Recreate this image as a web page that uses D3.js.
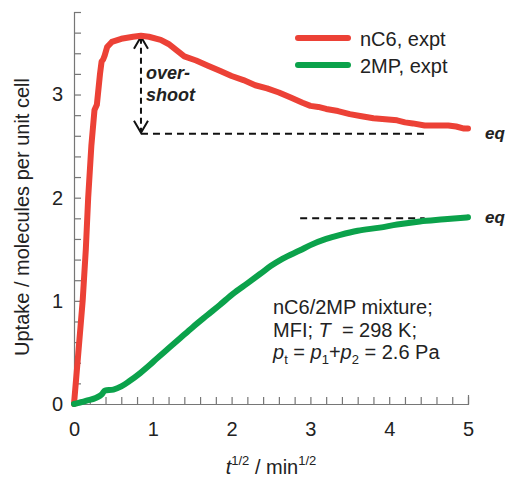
<!DOCTYPE html>
<html>
<head>
<meta charset="utf-8">
<script src="https://cdn.jsdelivr.net/npm/d3@7"></script>
<style>
  html, body { margin: 0; padding: 0; background: #fff; }
  svg { display: block; font-family: Arial, "Liberation Sans", sans-serif; }
</style>
</head>
<body>
<svg id="chart" width="507" height="481"></svg>
<script>
// nC6 uptake vs sqrt(t)
const nc6T = [0, 0.05, 0.11, 0.15, 0.18, 0.22, 0.26, 0.29, 0.31, 0.33, 0.35, 0.37, 0.39, 0.42, 0.48, 0.6, 0.75, 0.85, 0.95, 1.1, 1.2, 1.3, 1.4, 1.55, 1.7, 1.85, 2.0, 2.15, 2.3, 2.45, 2.6, 2.75, 2.9, 3.0, 3.1, 3.2, 3.35, 3.5, 3.65, 3.8, 3.95, 4.1, 4.2, 4.3, 4.45, 4.6, 4.75, 4.85, 4.95, 5.0];
const nc6V = [0, 0.45, 1.0, 1.5, 2.0, 2.5, 2.85, 2.9, 3.05, 3.2, 3.32, 3.34, 3.38, 3.46, 3.51, 3.54, 3.56, 3.57, 3.56, 3.53, 3.49, 3.43, 3.37, 3.33, 3.28, 3.23, 3.18, 3.14, 3.09, 3.06, 3.02, 2.97, 2.92, 2.89, 2.88, 2.86, 2.84, 2.81, 2.79, 2.77, 2.76, 2.75, 2.73, 2.72, 2.7, 2.7, 2.7, 2.69, 2.67, 2.67];
// 2MP uptake
const mp2T = [0, 0.15, 0.33, 0.36, 0.39, 0.5, 0.6, 0.7, 0.84, 0.95, 1.05, 1.2, 1.35, 1.5, 1.69, 1.85, 2.02, 2.2, 2.36, 2.5, 2.65, 2.87, 3.0, 3.2, 3.38, 3.6, 3.88, 4.1, 4.39, 4.7, 5.0];
const mp2V = [0, 0.03, 0.08, 0.1, 0.13, 0.14, 0.17, 0.22, 0.3, 0.37, 0.44, 0.54, 0.64, 0.74, 0.86, 0.96, 1.07, 1.17, 1.26, 1.34, 1.41, 1.49, 1.54, 1.6, 1.64, 1.68, 1.71, 1.74, 1.77, 1.79, 1.81];

const seriesNames = ['nC6, expt', '2MP, expt'];
const seriesColors = ['#ec4136', '#0ba24b'];

// equilibrium levels and overshoot marker
const nc6Eq = 2.62, nc6EqFrom = 0.85, nc6EqTo = 4.45;
const mp2Eq = 1.8, mp2EqFrom = 2.87, mp2EqTo = 4.45;
const peakT = 0.85, peakV = 3.57;

const xMajorTicks = [0, 1, 2, 3, 4, 5];
const yMajorTicks = [0, 1, 2, 3];
const xMinorTicks = d3.range(0, 5.001, 0.2);
const yMinorTicks = d3.range(0, 3.801, 0.2);

const svg = d3.select('#chart');
const margin = { top: 12, right: 39, bottom: 77, left: 74 };
const width = 507, height = 481;
const innerW = width - margin.left - margin.right;
const innerH = height - margin.top - margin.bottom;
const g = svg.append('g').attr('transform', `translate(${margin.left},${margin.top})`);

const x = d3.scaleLinear([0, 5], [0, innerW]);
const y = d3.scaleLinear([0, 3.8], [innerH, 0]);

const axisColor = '#767676';

// axes (ticks point inward)
g.append('g').attr('transform', `translate(0,${innerH})`)
  .call(d3.axisBottom(x).tickValues(xMinorTicks).tickSize(-7).tickSizeOuter(-9).tickFormat(''));
g.append('g').attr('transform', `translate(0,${innerH})`)
  .call(d3.axisBottom(x).tickValues(xMajorTicks).tickSize(0).tickPadding(18).tickFormat(d3.format('d')))
  .call((s) => s.select('.domain').remove());
g.append('g')
  .call(d3.axisLeft(y).tickValues(yMinorTicks).tickSize(-7).tickSizeOuter(-7).tickFormat(''));
g.append('g')
  .call(d3.axisLeft(y).tickValues(yMajorTicks).tickSize(0).tickPadding(11).tickFormat(d3.format('d')))
  .call((s) => s.select('.domain').remove());
g.selectAll('.domain, .tick line').attr('stroke', axisColor).attr('stroke-width', 1.2);
g.selectAll('.tick text').attr('font-size', 20).attr('fill', '#222').attr('font-family', 'Arial, "Liberation Sans", sans-serif');

// dashed equilibrium lines
const dash = '7,5';
g.append('line').attr('x1', x(nc6EqFrom)).attr('x2', x(nc6EqTo)).attr('y1', y(nc6Eq)).attr('y2', y(nc6Eq))
  .attr('stroke', '#111').attr('stroke-width', 2).attr('stroke-dasharray', dash);
g.append('line').attr('x1', x(mp2EqFrom)).attr('x2', x(mp2EqTo)).attr('y1', y(mp2Eq)).attr('y2', y(mp2Eq))
  .attr('stroke', '#111').attr('stroke-width', 2).attr('stroke-dasharray', dash);

// overshoot double arrow
g.append('line').attr('x1', x(peakT)).attr('x2', x(peakT)).attr('y1', y(peakV) + 2).attr('y2', y(nc6Eq) - 2)
  .attr('stroke', '#111').attr('stroke-width', 2).attr('stroke-dasharray', '6,4');
const ax = x(peakT), aTop = y(peakV) + 1, aBot = y(nc6Eq) - 1;
g.append('path').attr('d', `M${ax - 7},${aTop + 12}L${ax},${aTop}L${ax + 7},${aTop + 12}`)
  .attr('fill', 'none').attr('stroke', '#111').attr('stroke-width', 2);
g.append('path').attr('d', `M${ax - 7},${aBot - 12}L${ax},${aBot}L${ax + 7},${aBot - 12}`)
  .attr('fill', 'none').attr('stroke', '#111').attr('stroke-width', 2);
const ov = g.append('text').attr('font-size', 18).attr('font-weight', 'bold').attr('font-style', 'italic').attr('fill', '#222');
ov.append('tspan').attr('x', ax + 5).attr('y', y(3.15)).text('over-');
ov.append('tspan').attr('x', ax + 5).attr('y', y(2.94)).text('shoot');

// curves
const nc6 = nc6T.map((t, i) => [t, nc6V[i]]);
const mp2 = mp2T.map((t, i) => [t, mp2V[i]]);
g.append('path').datum(nc6).attr('d', d3.line().x((d) => x(d[0])).y((d) => y(d[1])))
  .attr('fill', 'none').attr('stroke', seriesColors[0]).attr('stroke-width', 6).attr('stroke-linejoin', 'round').attr('stroke-linecap', 'round');
g.append('path').datum(mp2).attr('d', d3.line().x((d) => x(d[0])).y((d) => y(d[1])).curve(d3.curveMonotoneX))
  .attr('fill', 'none').attr('stroke', seriesColors[1]).attr('stroke-width', 6).attr('stroke-linejoin', 'round').attr('stroke-linecap', 'round');

// eq labels
[nc6Eq, mp2Eq].forEach((v) => {
  g.append('text').attr('x', x(5) + 17).attr('y', y(v) + 5)
    .attr('font-size', 17).attr('font-weight', 'bold').attr('font-style', 'italic').attr('fill', '#222').text('eq');
});

// legend
const legend = svg.append('g').attr('transform', 'translate(298,38)');
seriesNames.forEach((name, i) => {
  const row = legend.append('g').attr('transform', `translate(0,${i * 27})`);
  row.append('line').attr('x1', 0).attr('x2', 50).attr('stroke', seriesColors[i]).attr('stroke-width', 6).attr('stroke-linecap', 'round');
  row.append('text').attr('x', 62).attr('y', 8).attr('font-size', 20).attr('fill', '#222').text(name);
});

// conditions note
const note = svg.append('g').attr('font-size', 20).attr('fill', '#222');
note.append('text').attr('x', 273).attr('y', 314).text('nC6/2MP mixture;');
const l2 = note.append('text').attr('x', 273).attr('y', 337);
l2.append('tspan').text('MFI; ');
l2.append('tspan').attr('font-style', 'italic').text('T');
l2.append('tspan').text('\u00a0 = 298 K;');
const l3 = note.append('text').attr('x', 273).attr('y', 359);
l3.append('tspan').attr('font-style', 'italic').text('p');
l3.append('tspan').attr('font-size', 13).attr('dy', 5).text('t');
l3.append('tspan').attr('dy', -5).text(' = ');
l3.append('tspan').attr('font-style', 'italic').text('p');
l3.append('tspan').attr('font-size', 13).attr('dy', 5).text('1');
l3.append('tspan').attr('dy', -5).text('+');
l3.append('tspan').attr('font-style', 'italic').text('p');
l3.append('tspan').attr('font-size', 13).attr('dy', 5).text('2');
l3.append('tspan').attr('dy', -5).text(' = 2.6 Pa');

// axis titles
const xt = svg.append('text').attr('x', 271).attr('y', 474).attr('text-anchor', 'middle').attr('font-size', 20).attr('fill', '#222');
xt.append('tspan').attr('font-style', 'italic').text('t');
xt.append('tspan').attr('font-size', 13).attr('dy', -9).text('1/2');
xt.append('tspan').attr('dy', 9).text(' / min');
xt.append('tspan').attr('font-size', 13).attr('dy', -9).text('1/2');

svg.append('text').attr('transform', 'translate(29,217) rotate(-90)').attr('text-anchor', 'middle')
  .attr('font-size', 20).attr('fill', '#222').text('Uptake / molecules per unit cell');
</script>
</body>
</html>
